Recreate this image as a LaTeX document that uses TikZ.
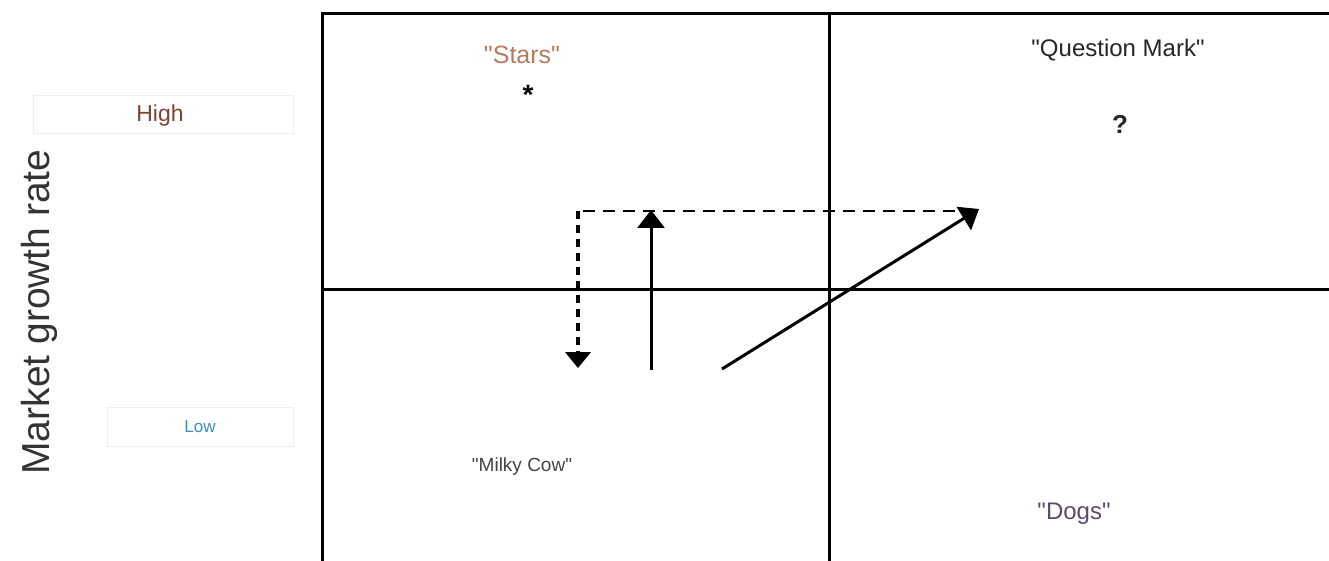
\documentclass[tikz,border=0pt]{standalone}
\usepackage{fontspec}
\setmainfont{Liberation Sans}[Ligatures=TeXOff]
\usetikzlibrary{arrows.meta}
\definecolor{axisgray}{HTML}{333333}
\definecolor{highbrown}{HTML}{7A4535}
\definecolor{lowblue}{HTML}{3A8EC2}
\definecolor{starbrown}{HTML}{B57A5E}
\definecolor{cowgray}{HTML}{444444}
\definecolor{dogpurple}{HTML}{5B4A6B}
\definecolor{faint}{HTML}{EEEEEE}
\tikzset{
  gridline/.style={line width=3pt, black},
  label/.style={inner sep=0pt, font=\fontsize{20}{24}\selectfont},
  faintbox/.style={draw=faint, line width=0.8pt, fill=white},
  arr/.style={line width=3pt, -{Triangle[width=27pt,length=18pt]}},
  dashh/.style={line width=2.5pt, dash pattern=on 12pt off 8pt},
  dashv/.style={line width=4pt, dash pattern=on 8pt off 6pt, -{Triangle[width=26pt,length=16pt,line width=0pt]}},
}
\begin{document}
\begin{tikzpicture}[x=1pt, y=-1pt]
\useasboundingbox (0,0) rectangle (1329,561);
% grid
\coordinate (TL) at (322,14);
\coordinate (TM) at (829,14);
\coordinate (TR) at (1329,14);
\coordinate (BL) at (322,561);
\coordinate (BM) at (829,561);
\coordinate (ML) at (322,289);
\coordinate (MR) at (1329,289);
\draw[gridline] (BL) -- (TL) -- (TR);
\draw[gridline] (TM) -- (BM);
\draw[gridline] (ML) -- (MR);
% left labels
\node[faintbox, minimum width=260pt, minimum height=38pt] (highbox) at (163,114) {};
\node[label, text=highbrown, font=\fontsize{23}{27}\selectfont] (high) at (160,116) {High};
\node[faintbox, minimum width=186pt, minimum height=39pt] (lowbox) at (200,427) {};
\node[label, text=lowblue, font=\fontsize{17}{20}\selectfont] (low) at (200,427) {Low};
\node[label, text=axisgray, rotate=90, font=\fontsize{39}{44}\selectfont] (axis) at (39,312) {Market growth rate};
% quadrant labels
\node[label, text=starbrown, font=\fontsize{25}{29}\selectfont] (stars) at (522,55) {"Stars"};
\node[label, font=\fontsize{28}{28}\selectfont\bfseries] (star) at (528,95) {*};
\node[label, text=black!85, font=\fontsize{24}{28}\selectfont] (qm) at (1118,50) {"Question Mark"};
\node[label, font=\fontsize{26}{30}\selectfont\bfseries, text=black!85] (q) at (1120,124) {?};
\node[label, text=cowgray, font=\fontsize{19}{22}\selectfont] (cow) at (522,467) {"Milky Cow"};
\node[label, text=dogpurple, font=\fontsize{24}{28}\selectfont] (dogs) at (1074,514) {"Dogs"};
% arrows
\coordinate (dR) at (975,211);
\coordinate (dC) at (578,211);
\coordinate (dB) at (578,368);
\draw[dashh] (dR) -- (dC);
\draw[dashv] (dC) -- (dB);
\coordinate (uB) at (651,370);
\coordinate (uT) at (651,210);
\draw[arr] (uB) -- (uT);
\coordinate (gS) at (722,369);
\coordinate (gE) at (979,209);
\draw[arr] (gS) -- (gE);
\end{tikzpicture}
\end{document}
